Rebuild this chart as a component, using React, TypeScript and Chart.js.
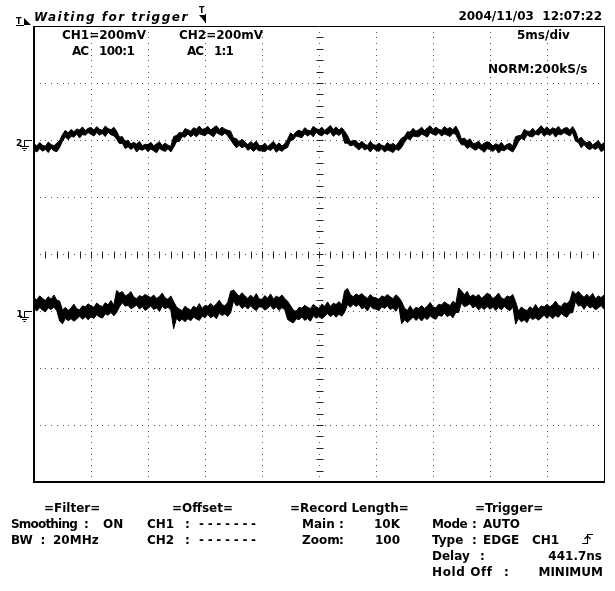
import React, { useEffect, useRef } from "react";
import { Chart, registerables } from "chart.js";

Chart.register(...registerables);

// ---- acquisition settings ----
const TIME_PER_DIV_MS = 5;
const SAMPLE_INTERVAL_MS = 0.25;
const MV_PER_DIV = 200;
const CH1_POSITION_DIV = -1;
const CH2_POSITION_DIV = 2;

// ---- CH2 envelope (mV): upper / lower edge of the noisy trace ----
const ch2Upper = [
  -12, -21, -9, -18, -22, -7, -16, -20, -11, -2, 19, 34, 25, 37, 29, 39, 35, 46, 33, 41,
  44, 35, 47, 38, 34, 49, 40, 36, 45, 31, 10, 12, -6, 0, -14, -8, -14, -5, -20, -15,
  -16, -8, -21, -13, -6, -19, -11, -18, -22, 12, 16, 27, 24, 40, 36, 31, 43, 38, 49, 37,
  40, 48, 35, 43, 50, 37, 45, 38, 34, 31, 7, 5, -7, 3, -7, -16, -6, -13, -4, -19,
  -20, -11, -23, -14, -5, -19, -10, -21, -13, 3, 25, 17, 29, 35, 29, 43, 35, 32, 48, 40,
  36, 45, 33, 42, 51, 37, 46, 35, 43, 31, 16, -5, -2, -2, -14, -4, -14, -19, -5, -16,
  -19, -11, -18, -22, -9, -17, -12, -20, -7, 7, 12, 29, 28, 41, 31, 36, 45, 33, 42, 50,
  37, 45, 38, 34, 47, 39, 44, 36, 49, 31, 3, 7, -3, 4, -12, -11, -4, -18, -11, -6,
  -10, -21, -13, -18, -8, -22, -15, -12, -21, 12, 15, 17, 37, 31, 30, 41, 30, 40, 50, 37,
  46, 35, 43, 38, 48, 34, 41, 44, 35, 47, 31, 2, 10, -3, -10, -4, -18, -10, -2, -17,
  -10,
];
const ch2Lower = [
  -36, -42, -30, -39, -33, -44, -29, -38, -41, -26, -4, 11, 1, 13, 10, 21, 7, 19, 17, 26,
  20, 14, 26, 17, 23, 12, 27, 18, 15, 3, -13, -11, -30, -24, -33, -26, -42, -32, -36, -30,
  -41, -32, -38, -45, -30, -36, -40, -31, -42, -26, -6, -5, 12, 10, 21, 11, 19, 11, 22, 18,
  15, 24, 18, 11, 26, 20, 16, 25, 14, 0, -15, -27, -19, -27, -22, -36, -30, -40, -31, -38,
  -38, -41, -32, -37, -28, -43, -34, -40, -31, -26, -2, 1, 14, 11, 8, 22, 14, 21, 11, 27,
  18, 15, 24, 19, 28, 13, 22, 16, 25, -11, -11, -21, -17, -26, -35, -25, -35, -30, -42, -29,
  -36, -40, -31, -42, -35, -39, -44, -32, -37, -26, -8, 5, 1, 14, 12, 11, 21, 16, 10, 26,
  20, 16, 25, 14, 21, 17, 12, 24, 19, -2, -17, -17, -30, -23, -31, -36, -28, -35, -43, -30,
  -34, -40, -31, -46, -35, -38, -30, -36, -42, -26, -6, 6, 0, 18, 12, 11, 21, 17, 27, 13,
  22, 16, 25, 10, 21, 18, 26, 20, 14, 26, -4, -9, -27, -16, -28, -34, -27, -33, -25, -41,
  -34,
];

// ---- CH1 envelope (mV) ----
const ch1Upper = [
  46, 39, 53, 44, 37, 50, 41, 56, 38, 35, 3, 13, 2, 11, 24, 8, 4, 18, 15, 25,
  18, 13, 28, 20, 15, 29, 21, 37, 20, 72, 63, 68, 53, 58, 68, 49, 43, 54, 50, 58,
  52, 47, 56, 44, 51, 63, 46, 41, 53, 33, 14, 7, 1, 17, 9, 3, 17, 10, 26, 9,
  20, 17, 27, 16, 25, 38, 22, 18, 31, 69, 74, 62, 52, 64, 53, 44, 56, 46, 61, 42,
  41, 54, 45, 60, 42, 52, 47, 56, 44, 34, 19, 3, -1, 13, 10, 20, 13, 8, 23, 15,
  9, 24, 16, 32, 16, 27, 23, 33, 22, 71, 79, 58, 50, 60, 54, 61, 52, 44, 58, 48,
  46, 41, 53, 49, 58, 50, 43, 57, 48, 33, 10, 2, 18, 2, 13, 9, 19, 9, 17, 30,
  14, 11, 24, 21, 32, 25, 19, 34, 26, 81, 70, 57, 69, 49, 57, 50, 58, 45, 52, 63,
  56, 44, 51, 63, 46, 41, 53, 49, 58, 32, -1, 14, 6, 1, 15, 7, 23, 7, 18, 14,
  24, 14, 22, 35, 20, 16, 29, 26, 36, 70, 59, 69, 57, 48, 59, 48, 62, 43, 53, 47,
  56,
];
const ch1Lower = [
  8, 0, 12, 3, -3, 11, 5, 14, 1, -35, -45, -26, -34, -27, -36, -28, -18, -29, -20, -31,
  -20, -26, -13, -21, -25, -10, -15, -5, -17, -5, 15, 29, 17, 20, 8, 13, 21, 7, 15, 2,
  9, 18, 5, 11, -1, 17, 8, 13, 3, -62, -25, -37, -28, -38, -27, -34, -21, -28, -33, -18,
  -23, -12, -24, -17, -27, -8, -16, -10, -19, -6, 35, 18, 23, 9, 17, 7, 18, 8, 2, 15,
  13, 3, 10, 19, 6, 14, 2, 12, 4, -30, -37, -42, -27, -31, -21, -33, -26, -36, -17, -25,
  -19, -27, -19, -9, -20, -11, -22, -11, -18, -4, 23, 13, 24, 16, 23, 8, 13, 0, 18, 8,
  7, 1, 15, 9, 18, 5, 11, -1, 17, -45, -31, -40, -32, -21, -33, -24, -35, -23, -30, -17,
  -25, -29, -14, -19, -8, -20, -13, -24, -5, -5, 29, 15, 19, 26, 11, 17, 4, 13, 5, 16,
  6, 14, 2, 12, 4, 16, 7, 1, 15, -46, -26, -38, -31, -41, -22, -30, -24, -32, -24, -14,
  -26, -16, -27, -16, -22, -9, -17, -22, -7, -6, 34, 17, 20, 6, 22, 11, 15, 4, 11, 19,
  6,
];

const toPoints = (vals: number[], pos: number) =>
  vals.map((v, i) => ({ x: i * SAMPLE_INTERVAL_MS, y: pos + v / MV_PER_DIV }));

const FONT = "'DejaVu Sans', sans-serif";

const scopePlugin = {
  id: "scopeGraticule",
  beforeDatasetsDraw(chart: any) {
    const { ctx, scales, chartArea: a } = chart;
    const x = scales.x;
    const y = scales.y;
    ctx.save();
    // dotted graticule: one dot every 1/10 division along every division line
    ctx.fillStyle = "#555";
    const xTicks = x.ticks.map((t: any) => t.value);
    const yTicks = y.ticks.map((t: any) => t.value);
    const xStep = TIME_PER_DIV_MS / 10;
    for (const yv of yTicks) {
      const py = Math.round(y.getPixelForValue(yv));
      if (py <= a.top + 1 || py >= a.bottom - 1) continue;
      for (let k = 1; k < 100; k++) {
        const px = Math.round(x.getPixelForValue(k * xStep));
        ctx.fillRect(px, py, 1, 1);
      }
    }
    for (const xv of xTicks) {
      const px = Math.round(x.getPixelForValue(xv));
      if (px <= a.left + 1 || px >= a.right - 1) continue;
      for (let k = -39; k < 40; k++) {
        const py = Math.round(y.getPixelForValue(k / 10));
        ctx.fillRect(px, py, 1, 1);
      }
    }
    // centre axes with 1/5-division tick marks
    const cx = Math.round(x.getPixelForValue(TIME_PER_DIV_MS * 5)) + 0.5;
    const cy = Math.round(y.getPixelForValue(0)) + 0.5;
    ctx.strokeStyle = "#222";
    ctx.lineWidth = 1;
    ctx.beginPath();
    for (let k = 1; k < 50; k++) {
      const px = Math.round(x.getPixelForValue((k * TIME_PER_DIV_MS) / 5)) + 0.5;
      ctx.moveTo(px, cy - 3);
      ctx.lineTo(px, cy + 4);
    }
    for (let k = -19; k < 20; k++) {
      const py = Math.round(y.getPixelForValue(k / 5)) + 0.5;
      ctx.moveTo(cx - 3, py);
      ctx.lineTo(cx + 4, py);
    }
    ctx.stroke();
    ctx.restore();
  },
  afterDraw(chart: any) {
    const { ctx, chartArea: a, scales } = chart;
    const y = scales.y;
    ctx.save();
    ctx.strokeStyle = "#000";
    ctx.lineWidth = 1;
    ctx.beginPath();
    ctx.moveTo(a.left, a.top + 0.5);
    ctx.lineTo(a.right + 0.5, a.top + 0.5);
    ctx.lineTo(a.right + 0.5, a.bottom);
    ctx.stroke();
    ctx.lineWidth = 2;
    ctx.beginPath();
    ctx.moveTo(a.left, a.top);
    ctx.lineTo(a.left, a.bottom);
    ctx.lineTo(a.right + 1, a.bottom);
    ctx.stroke();
    // ground markers
    ctx.lineWidth = 1;
    [CH2_POSITION_DIV, CH1_POSITION_DIV].forEach((pos) => {
      const gy = Math.round(y.getPixelForValue(pos)) + 0.5;
      ctx.beginPath();
      ctx.moveTo(32, gy);
      ctx.lineTo(24.5, gy);
      ctx.lineTo(24.5, gy + 6);
      ctx.moveTo(20, gy + 6);
      ctx.lineTo(29, gy + 6);
      ctx.moveTo(22, gy + 8);
      ctx.lineTo(27, gy + 8);
      ctx.moveTo(23.5, gy + 10);
      ctx.lineTo(25.5, gy + 10);
      ctx.stroke();
    });
    ctx.restore();
  },
};

type TextItem = {
  t: string;
  x?: number;
  r?: number;
  y: number;
  ls?: number;
  italic?: boolean;
  size?: number;
};

const texts: TextItem[] = [
  { t: "Waiting for trigger", x: 34, y: 21, italic: true, ls: 1.5 },
  { t: "CH1=200mV", x: 62, y: 39 },
  { t: "CH2=200mV", x: 179, y: 39 },
  { t: "AC", x: 72, y: 55, ls: -1 },
  { t: "100:1", x: 99, y: 55, ls: -0.6 },
  { t: "AC", x: 187, y: 55, ls: -1 },
  { t: "1:1", x: 214, y: 55, ls: -0.8 },
  { t: "2004/11/03  12:07:22", r: 602, y: 20 },
  { t: "5ms/div", x: 517, y: 39 },
  { t: "NORM:200kS/s", x: 488, y: 73.5 },
  { t: "=Filter=", x: 44, y: 512 },
  { t: "Smoothing", x: 11, y: 528, ls: -0.8 },
  { t: ":", x: 84, y: 528 },
  { t: "ON", x: 103, y: 528 },
  { t: "BW", x: 11, y: 544 },
  { t: ":", x: 40.5, y: 544 },
  { t: "20MHz", x: 53, y: 544 },
  { t: "=Offset=", x: 172, y: 512 },
  { t: "CH1", x: 147, y: 528 },
  { t: ":", x: 185, y: 528 },
  { t: "-------", x: 199, y: 528, ls: 3.7 },
  { t: "CH2", x: 147, y: 544 },
  { t: ":", x: 185, y: 544 },
  { t: "-------", x: 199, y: 544, ls: 3.7 },
  { t: "=Record Length=", x: 290, y: 512 },
  { t: "Main", x: 302, y: 528 },
  { t: ":", x: 339, y: 528 },
  { t: "10K", r: 400, y: 528 },
  { t: "Zoom", x: 302, y: 544 },
  { t: ":", x: 339, y: 544 },
  { t: "100", r: 400, y: 544 },
  { t: "=Trigger=", x: 475, y: 512 },
  { t: "Mode", x: 432, y: 528, ls: -0.4 },
  { t: ":", x: 472, y: 528 },
  { t: "AUTO", x: 483, y: 528 },
  { t: "Type", x: 432, y: 544 },
  { t: ":", x: 472, y: 544 },
  { t: "EDGE", x: 483, y: 544 },
  { t: "CH1", x: 532, y: 544 },
  { t: "Delay", x: 432, y: 560 },
  { t: ":", x: 480, y: 560 },
  { t: "441.7ns", r: 602, y: 560 },
  { t: "Hold Off", x: 432, y: 576, ls: 0.6 },
  { t: ":", x: 504, y: 576 },
  { t: "MINIMUM", r: 603, y: 576 },
  { t: "2", x: 16, y: 147, size: 9 },
  { t: "1", x: 16.5, y: 318, size: 9 },
  { t: "T", x: 16, y: 25, size: 8 },
  { t: "T", x: 199, y: 14, size: 8 },
];

export default function App() {
  const canvasRef = useRef<HTMLCanvasElement | null>(null);

  useEffect(() => {
    const canvas = canvasRef.current;
    if (!canvas) return;
    const traceStyle = {
      borderColor: "#000",
      backgroundColor: "#000",
      borderWidth: 1,
      pointRadius: 0,
      tension: 0,
    };
    const axisStyle = {
      grid: { display: false, drawTicks: false },
      border: { display: false },
    };
    const chart = new Chart(canvas, {
      type: "line",
      data: {
        datasets: [
          { ...traceStyle, label: "CH2 max", data: toPoints(ch2Upper, CH2_POSITION_DIV), fill: false },
          { ...traceStyle, label: "CH2 min", data: toPoints(ch2Lower, CH2_POSITION_DIV), fill: "-1" },
          { ...traceStyle, label: "CH1 max", data: toPoints(ch1Upper, CH1_POSITION_DIV), fill: false },
          { ...traceStyle, label: "CH1 min", data: toPoints(ch1Lower, CH1_POSITION_DIV), fill: "-1" },
        ],
      },
      options: {
        responsive: false,
        animation: false,
        events: [],
        layout: { padding: { left: 34, top: 26, right: 11, bottom: 109 } },
        plugins: { legend: { display: false }, tooltip: { enabled: false }, title: { display: false } },
        scales: {
          x: {
            type: "linear",
            min: 0,
            max: TIME_PER_DIV_MS * 10,
            ticks: { display: false, stepSize: TIME_PER_DIV_MS },
            ...axisStyle,
          },
          y: {
            type: "linear",
            min: -4,
            max: 4,
            ticks: { display: false, stepSize: 1 },
            ...axisStyle,
          },
        },
      } as any,
      plugins: [scopePlugin],
    });
    return () => chart.destroy();
  }, []);

  return (
    <div
      style={{
        position: "fixed",
        left: 0,
        top: 0,
        width: 615,
        height: 591,
        background: "#fff",
        overflow: "hidden",
      }}
    >
      <canvas ref={canvasRef} width={615} height={591} style={{ position: "absolute", left: 0, top: 0 }} />
      {texts.map((it, i) => {
        const size = it.size || 12;
        const style: React.CSSProperties = {
          position: "absolute",
          top: it.y - size * 0.845,
          fontFamily: FONT,
          fontWeight: "bold",
          fontStyle: it.italic ? "italic" : "normal",
          fontSize: size,
          lineHeight: `${size}px`,
          letterSpacing: it.ls ? `${it.ls}px` : undefined,
          whiteSpace: "pre",
          color: "#000",
        };
        if (it.r !== undefined) style.right = 615 - it.r;
        else style.left = it.x;
        return (
          <div key={i} style={style}>
            {it.t}
          </div>
        );
      })}
      <svg
        width={615}
        height={591}
        style={{ position: "absolute", left: 0, top: 0, pointerEvents: "none" }}
      >
        <polygon points="24,18 24,25 31,25" fill="#000" />
        <line x1={16} y1={25.5} x2={24} y2={25.5} stroke="#000" strokeWidth={1} />
        <polygon points="199,15 205,15 205,22" fill="#000" />
        <line x1={205.5} y1={14} x2={205.5} y2={23} stroke="#000" strokeWidth={1} />
        <path d="M582 543.5 H587.5 V534.5 H593" fill="none" stroke="#000" strokeWidth={1.2} />
        <path d="M584.5 539 L587.5 536 L590.5 539" fill="none" stroke="#000" strokeWidth={1.2} />
      </svg>
    </div>
  );
}
